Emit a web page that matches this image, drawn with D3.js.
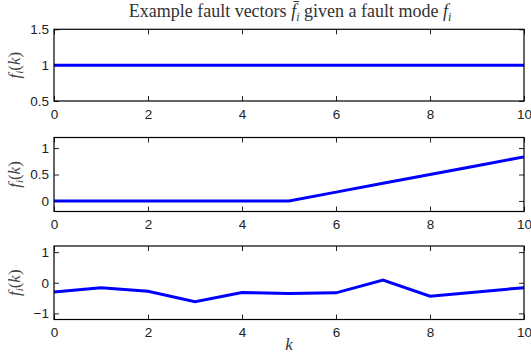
<!DOCTYPE html>
<html>
<head>
<meta charset="utf-8">
<script src="https://cdn.jsdelivr.net/npm/d3@7"></script>
<style>
  body { margin: 0; background: #fff; }
  svg { display: block; }
  .tick text { font-family: "Liberation Sans", Arial, sans-serif; font-size: 13.5px; fill: #222; }
</style>
</head>
<body>
<svg id="chart" width="531" height="355"></svg>
<script>
// data
const k = [0, 1, 2, 3, 4, 5, 6, 7, 8, 9, 10];
const constantFault = [1, 1, 1, 1, 1, 1, 1, 1, 1, 1, 1];
const rampFault = [0, 0, 0, 0, 0, 0, 0.167, 0.333, 0.5, 0.667, 0.833];
const randomFault = [-0.3, -0.16, -0.28, -0.62, -0.32, -0.35, -0.33, 0.09, -0.44, -0.3, -0.16];
const xTicks = [0, 2, 4, 6, 8, 10];
const yTicks1 = [0.5, 1, 1.5];
const yTicks2 = [0, 0.5, 1];
const yTicks3 = [-1, 0, 1];

const svg = d3.select("#chart");
const left = 54, right = 524;
const serif = "'Liberation Serif', 'DejaVu Serif', serif";

const x = d3.scaleLinear().domain([0, 10]).range([left, right]);

// one panel
function drawPanel(values, yDomain, yTicks, top, bottom) {
    const y = d3.scaleLinear().domain(yDomain).range([bottom, top]);
    const g = svg.append("g");

    // ticks inside, mirrored on all sides
    g.append("g")
        .attr("transform", `translate(0,${bottom})`)
        .call(d3.axisBottom(x).tickValues(xTicks).tickSize(-5).tickPadding(8).tickFormat(d3.format("")));
    g.append("g")
        .attr("transform", `translate(0,${top})`)
        .call(d3.axisTop(x).tickValues(xTicks).tickSize(-5).tickFormat(""));
    g.append("g")
        .attr("transform", `translate(${left},0)`)
        .call(d3.axisLeft(y).tickValues(yTicks).tickSize(-5).tickPadding(5).tickFormat(d3.format("")));
    g.append("g")
        .attr("transform", `translate(${right},0)`)
        .call(d3.axisRight(y).tickValues(yTicks).tickSize(-5).tickFormat(""));

    g.selectAll(".domain").remove();
    g.selectAll(".tick line").attr("stroke", "#222");

    // the line
    const line = d3.line().x((d, i) => x(k[i])).y(d => y(d));
    g.append("path")
        .datum(values)
        .attr("fill", "none")
        .attr("stroke", "#0000ff")
        .attr("stroke-width", 3)
        .attr("d", line);

    // box
    g.append("rect")
        .attr("x", left).attr("y", top)
        .attr("width", right - left).attr("height", bottom - top)
        .attr("fill", "none").attr("stroke", "#000").attr("stroke-width", 1.2);

    // y label f_i(k)
    const lab = g.append("text")
        .attr("transform", `translate(20,${(top + bottom) / 2}) rotate(-90)`)
        .attr("text-anchor", "middle")
        .style("font-family", serif)
        .style("font-style", "italic")
        .style("font-size", "17px")
        .style("fill", "#444");
    lab.append("tspan").text("f");
    lab.append("tspan").attr("dy", 3).style("font-size", "11px").text("i");
    lab.append("tspan").attr("dy", -3).style("font-style", "normal").text("(");
    lab.append("tspan").text("k");
    lab.append("tspan").style("font-style", "normal").text(")");
}

drawPanel(constantFault, [0.5, 1.5], yTicks1, 29.3, 101);
drawPanel(rampFault, [-0.2, 1.2], yTicks2, 137.5, 211.5);
drawPanel(randomFault, [-1.2, 1.2], yTicks3, 246, 319.5);

// title
const title = svg.append("text")
    .attr("x", 290).attr("y", 17)
    .attr("text-anchor", "middle")
    .style("font-family", serif)
    .style("font-size", "18px")
    .style("fill", "#333");
title.append("tspan").text("Example fault vectors ");
title.append("tspan").style("font-style", "italic").text("f\u0304");
title.append("tspan").attr("dy", 4).style("font-size", "12px").style("font-style", "italic").text("i");
title.append("tspan").attr("dy", -4).text(" given a fault mode ");
title.append("tspan").style("font-style", "italic").text("f");
title.append("tspan").attr("dy", 4).style("font-size", "12px").style("font-style", "italic").text("i");

// x label
svg.append("text")
    .attr("x", 289).attr("y", 350)
    .attr("text-anchor", "middle")
    .style("font-family", serif)
    .style("font-style", "italic")
    .style("font-size", "17px")
    .style("fill", "#333")
    .text("k");
</script>
</body>
</html>
